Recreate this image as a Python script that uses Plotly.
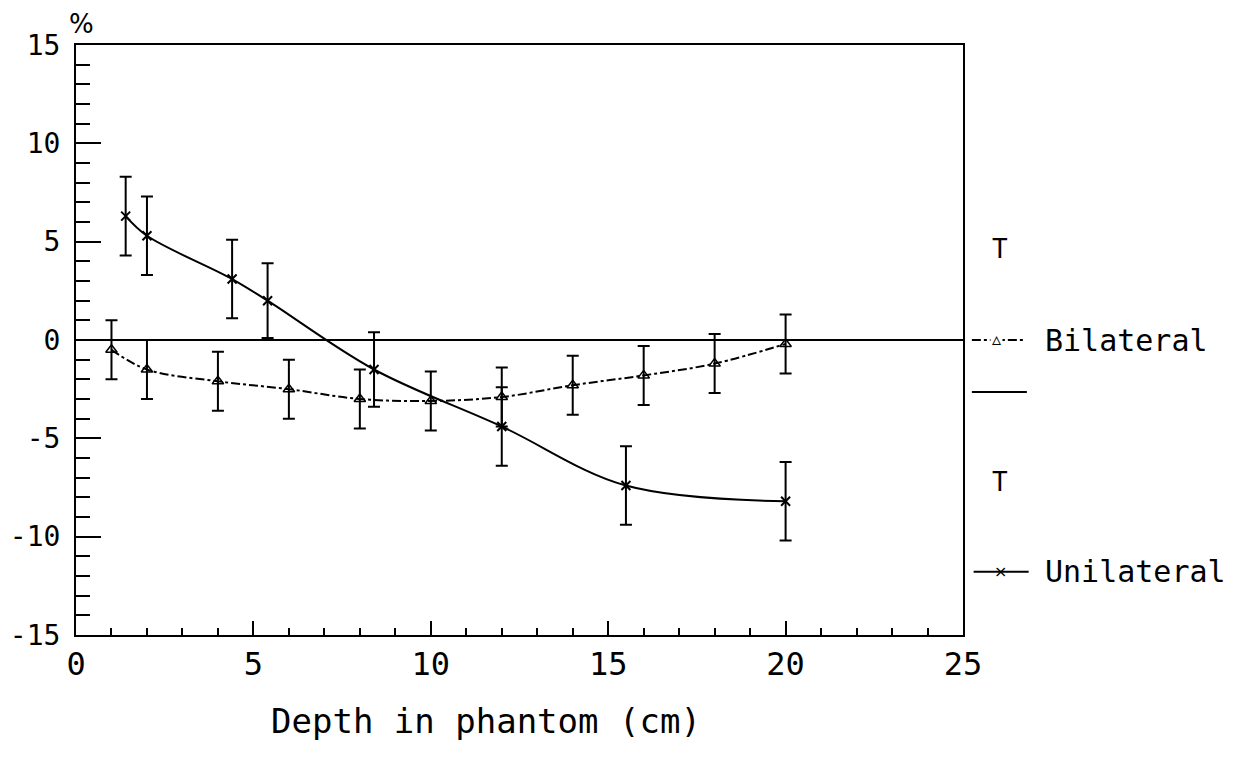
import plotly.graph_objects as go

# Data
uni_x = [1.4, 2.0, 4.4, 5.4, 8.4, 12.0, 15.5, 20.0]
uni_y = [6.3, 5.3, 3.1, 2.0, -1.5, -4.4, -7.4, -8.2]
uni_err = [2.0, 2.0, 2.0, 1.9, 1.9, 2.0, 2.0, 2.0]

bil_x = [1, 2, 4, 6, 8, 10, 12, 14, 16, 18, 20]
bil_y = [-0.5, -1.5, -2.1, -2.5, -3.0, -3.1, -2.9, -2.3, -1.8, -1.2, -0.2]
bil_err = [1.5, 1.5, 1.5, 1.5, 1.5, 1.5, 1.5, 1.5, 1.5, 1.5, 1.5]

y_ticks = [-15, -10, -5, 0, 5, 10, 15]
y_ticktext = ["-15", "-10", "-5", "0", "5", "10", "15"]
x_ticks = [0, 5, 10, 15, 20, 25]

FONT = "DejaVu Sans Mono"
MONO = "DejaVu Sans Mono"

fig = go.Figure()

fig.add_trace(go.Scatter(
    x=bil_x, y=bil_y, mode="lines+markers", name="Bilateral",
    line=dict(color="black", width=2, dash="dashdot", shape="spline"),
    marker=dict(symbol="triangle-up-open", size=10, color="black", line=dict(width=1.5)),
    error_y=dict(type="data", array=bil_err, color="black", thickness=2, width=6),
))
fig.add_trace(go.Scatter(
    x=uni_x, y=uni_y, mode="lines+markers", name="Unilateral",
    line=dict(color="black", width=2, shape="spline"),
    marker=dict(symbol="x-thin-open", size=9, color="black", line=dict(width=2, color="black")),
    error_y=dict(type="data", array=uni_err, color="black", thickness=2, width=6),
))

# zero line
fig.add_shape(type="line", xref="x", yref="y", x0=0, x1=25, y0=0, y1=0,
              line=dict(color="black", width=2))

# Custom legend
fig.add_shape(type="line", xref="paper", yref="paper", x0=1.010, x1=1.068, y0=0.5, y1=0.5,
              line=dict(color="black", width=2, dash="dashdot"))
fig.add_shape(type="line", xref="paper", yref="paper", x0=1.010, x1=1.072, y0=0.412, y1=0.412,
              line=dict(color="black", width=2))
fig.add_shape(type="line", xref="paper", yref="paper", x0=1.012, x1=1.074, y0=0.107, y1=0.107,
              line=dict(color="black", width=2))

annots = [
    dict(x=1.038, y=0.503, text="▵", font=dict(size=18, family="DejaVu Sans", color="black"), bgcolor="white"),
    dict(x=1.042, y=0.107, text="×", font=dict(size=16, family="DejaVu Sans", color="black")),
    dict(x=1.042, y=0.655, text="T", font=dict(size=26, family=MONO, color="black")),
    dict(x=1.042, y=0.26, text="T", font=dict(size=26, family=MONO, color="black")),
    dict(x=1.090, y=0.5, text="Bilateral", xanchor="left", font=dict(size=30, family=MONO, color="black")),
    dict(x=1.090, y=0.107, text="Unilateral", xanchor="left", font=dict(size=30, family=MONO, color="black")),
    dict(x=0.006, y=1.036, text="%", font=dict(size=26, family="DejaVu Sans", color="black")),
    dict(x=0.462, y=-0.108, yanchor="top", text="Depth in phantom (cm)", font=dict(size=34, family=MONO, color="black")),
]
for a in annots:
    a.setdefault("xanchor", "center")
    a.setdefault("yanchor", "middle")
    fig.add_annotation(xref="paper", yref="paper", showarrow=False, **a)

fig.update_xaxes(
    range=[0, 25], showline=True, linecolor="black", linewidth=2, mirror=True,
    ticks="inside", tickvals=x_ticks, ticklen=14, tickwidth=1.5, tickcolor="black",
    minor=dict(ticks="inside", dtick=1, ticklen=7, tickwidth=1.5, tickcolor="black"),
    showgrid=False, zeroline=False, automargin=False,
    tickfont=dict(family=FONT, size=32, color="black"),
)
fig.update_yaxes(
    range=[-15, 15], showline=True, linecolor="black", linewidth=2, mirror=True,
    ticks="inside", tickvals=y_ticks, ticktext=y_ticktext, ticklen=25, tickwidth=1.5, tickcolor="black",
    minor=dict(ticks="inside", dtick=1, ticklen=14, tickwidth=1.5, tickcolor="black"),
    showgrid=False, zeroline=False, automargin=False, ticklabelstandoff=8,
    tickfont=dict(family=FONT, size=28, color="black"),
)

fig.update_layout(
    width=1223, height=748,
    margin=dict(l=68, r=268, t=37, b=121),
    plot_bgcolor="white", paper_bgcolor="white",
    showlegend=False,
)

fig.write_html("out.html")
